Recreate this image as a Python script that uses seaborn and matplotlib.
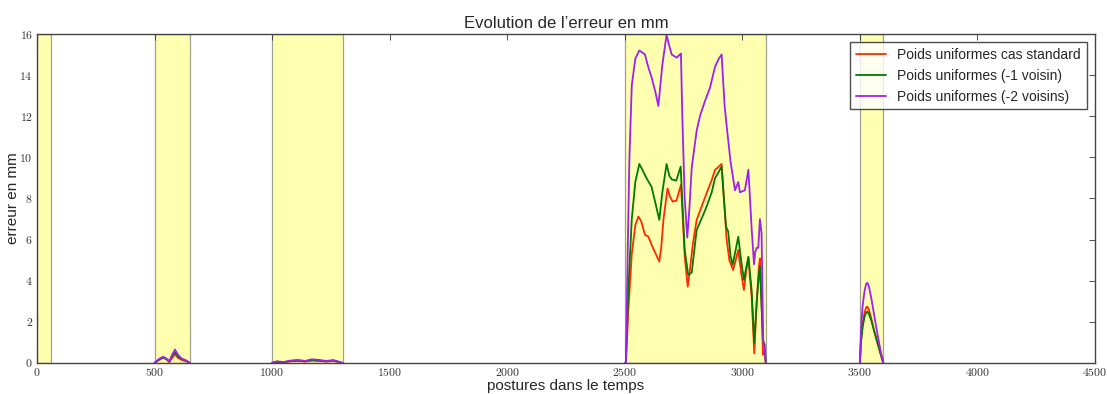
import numpy as np
import pandas as pd
import matplotlib
matplotlib.use("Agg")
import matplotlib.pyplot as plt
from matplotlib.ticker import FuncFormatter, MultipleLocator
import seaborn as sns

# shaded intervals (start, end) in postures
bands = [(0, 60), (500, 650), (1000, 1300), (2500, 3100), (3500, 3600)]

labels = [
    "Poids uniformes cas standard",
    "Poids uniformes (-1 voisin)",
    "Poids uniformes (-2 voisins)",
]

# x positions of the three small bands (shared by all series)
band_a_x = [500, 520, 537, 550, 563, 575, 587, 600, 615, 635, 650]
band_b_x = [1000, 1020, 1050, 1080, 1110, 1140, 1170, 1200, 1230, 1260, 1280, 1300]
band_d_x = [3500, 3505, 3512, 3520, 3527, 3532, 3538, 3548, 3560, 3575, 3590, 3600]

red_a = [0, 0.15, 0.25, 0.18, 0.05, 0.25, 0.42, 0.25, 0.15, 0.08, 0]
green_a = [0, 0.18, 0.28, 0.2, 0.06, 0.35, 0.52, 0.3, 0.2, 0.1, 0]
purple_a = [0, 0.2, 0.3, 0.22, 0.08, 0.4, 0.65, 0.4, 0.22, 0.12, 0]

red_b = [0, 0.05, 0.03, 0.08, 0.12, 0.07, 0.14, 0.12, 0.07, 0.1, 0.05, 0]
green_b = [0, 0.06, 0.04, 0.1, 0.1, 0.08, 0.12, 0.1, 0.08, 0.12, 0.06, 0]
purple_b = [0, 0.08, 0.05, 0.12, 0.15, 0.1, 0.18, 0.15, 0.1, 0.14, 0.08, 0]

red_d = [0, 1.1, 1.9, 2.45, 2.7, 2.74, 2.6, 2.2, 1.6, 0.95, 0.35, 0]
green_d = [0, 1.0, 1.75, 2.25, 2.45, 2.5, 2.4, 2.1, 1.6, 1.0, 0.4, 0]
purple_d = [0, 1.6, 2.8, 3.5, 3.85, 3.9, 3.75, 3.2, 2.4, 1.4, 0.5, 0]

# main band 2500-3100, each series with its own x
red_c_x = [2500, 2505, 2515, 2530, 2545, 2558, 2570, 2586, 2600, 2620, 2647, 2655,
           2665, 2682, 2692, 2704, 2720, 2739, 2745, 2755, 2768, 2775, 2790, 2806,
           2830, 2848, 2870, 2884, 2900, 2912, 2925, 2933, 2945, 2961, 2972, 2983,
           2995, 3007, 3018, 3026, 3040, 3051, 3061, 3070, 3075, 3082, 3088, 3095, 3100]
red_c = [0, 0, 2.5, 5.3, 6.7, 7.12, 6.9, 6.23, 6.15, 5.6, 4.93, 5.6,
         7.0, 8.49, 8.1, 7.85, 7.9, 8.66, 7.5, 5.2, 3.71, 4.3, 5.8, 6.96,
         7.7, 8.25, 8.9, 9.39, 9.55, 9.68, 7.5, 6.06, 5.0, 4.52, 5.0, 5.5,
         4.4, 3.55, 4.6, 5.1, 3.2, 0.47, 2.9, 4.6, 5.09, 3.0, 0.4, 0.6, 0]

green_c_x = [2500, 2505, 2515, 2530, 2545, 2562, 2575, 2593, 2614, 2630, 2647, 2660,
             2678, 2690, 2700, 2719, 2738, 2745, 2755, 2770, 2785, 2806, 2830, 2848,
             2870, 2884, 2900, 2912, 2925, 2931, 2940, 2950, 2959, 2970, 2983, 2995,
             3007, 3018, 3026, 3040, 3051, 3061, 3070, 3075, 3082, 3088, 3095, 3100]
green_c = [0, 0, 3.5, 7.0, 8.8, 9.68, 9.4, 8.98, 8.57, 7.8, 6.96, 8.3,
           9.68, 9.1, 8.93, 8.87, 9.55, 7.8, 5.5, 4.28, 4.4, 6.47, 7.1, 7.6,
           8.3, 8.98, 9.3, 9.55, 7.5, 6.63, 6.4, 5.2, 4.77, 5.4, 6.14, 5.0,
           4.04, 4.7, 5.17, 3.5, 0.96, 2.9, 4.2, 4.7, 2.8, 1.1, 0.9, 0]

purple_c_x = [2500, 2505, 2512, 2520, 2530, 2545, 2562, 2575, 2586, 2600, 2614, 2630,
              2643, 2660, 2678, 2690, 2700, 2721, 2739, 2745, 2755, 2766, 2775, 2785,
              2806, 2820, 2840, 2863, 2884, 2900, 2912, 2925, 2933, 2950, 2969, 2976,
              2983, 2990, 3011, 3020, 3026, 3040, 3050, 3055, 3061, 3068, 3075, 3082,
              3089, 3095, 3100]
purple_c = [0, 0, 5.0, 10.0, 13.5, 14.8, 15.2, 15.1, 15.0, 14.4, 13.9, 13.2,
            12.5, 14.5, 15.95, 15.4, 15.0, 14.85, 15.05, 12.0, 8.0, 6.1, 7.5, 9.5,
            11.3, 12.0, 12.7, 13.4, 14.4, 14.8, 15.0, 12.5, 11.6, 9.8, 8.4, 8.6,
            8.8, 8.3, 8.4, 9.0, 9.4, 6.5, 4.8, 5.4, 5.6, 5.6, 7.0, 6.3,
            1.1, 0.6, 0]

colors = ["#ff2a00", "#007a00", "#a020f0"]


def main():
    series = {
        labels[0]: [(band_a_x, red_a), (band_b_x, red_b), (red_c_x, red_c), (band_d_x, red_d)],
        labels[1]: [(band_a_x, green_a), (band_b_x, green_b), (green_c_x, green_c), (band_d_x, green_d)],
        labels[2]: [(band_a_x, purple_a), (band_b_x, purple_b), (purple_c_x, purple_c), (band_d_x, purple_d)],
    }
    frames = []
    for lab, parts in series.items():
        for i, (xs, ys) in enumerate(parts):
            frames.append(pd.DataFrame({"x": xs, "y": ys, "serie": lab, "band": i}))
    df = pd.concat(frames, ignore_index=True)

    sns.set_style("white")
    plt.rcParams["font.family"] = ["Liberation Sans", "DejaVu Sans"]
    plt.rcParams["mathtext.fontset"] = "cm"

    fig = plt.figure(figsize=(11.07, 3.94), dpi=100)
    ax = fig.add_axes([0.0334, 0.0787, 0.9557, 0.835])

    for a, b in bands:
        ax.axvspan(a, b, facecolor="#ffffb0", edgecolor="#a0a090", linewidth=0.9, zorder=0)

    sns.lineplot(data=df, x="x", y="y", hue="serie", units="band", estimator=None,
                 sort=False, palette=dict(zip(labels, colors)), hue_order=labels,
                 linewidth=1.3, ax=ax)

    ax.set_xlim(0, 4500)
    ax.set_ylim(0, 16)
    ax.xaxis.set_major_locator(MultipleLocator(500))
    ax.yaxis.set_major_locator(MultipleLocator(2))
    fmt = FuncFormatter(lambda v, p: f"${int(v)}$")
    ax.xaxis.set_major_formatter(fmt)
    ax.yaxis.set_major_formatter(fmt)
    ax.tick_params(direction="in", top=True, right=True, length=4, width=0.6,
                   labelsize=8.5, colors="#333333", pad=3)
    for s in ax.spines.values():
        s.set_color("#444444")
        s.set_linewidth(1.0)

    ax.set_title("Evolution de l\u2019erreur en mm", fontsize=12, pad=4)
    ax.set_xlabel("postures dans le temps", fontsize=11)
    ax.set_ylabel("erreur en mm", fontsize=11)
    ax.xaxis.set_label_coords(0.5, -0.048)
    ax.yaxis.set_label_coords(-0.016, 0.5)

    leg = ax.legend(loc="upper right", fontsize=10, frameon=True, fancybox=False,
                    handlelength=2.2, borderaxespad=0.6, labelspacing=0.5, title=None)
    leg.get_frame().set_edgecolor("#222222")
    leg.get_frame().set_linewidth(1.0)
    for line in leg.get_lines():
        line.set_linewidth(1.3)

    fig.savefig("out.png", dpi=100)


if __name__ == "__main__":
    main()
